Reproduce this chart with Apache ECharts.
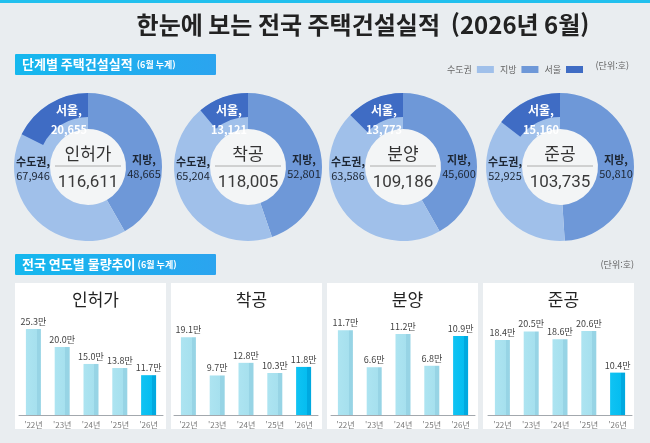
<!DOCTYPE html>
<html lang="ko">
<head>
    <meta charset="UTF-8">
    <title>한눈에 보는 전국 주택건설실적</title>
    <style>
        html,body{
            margin: 0;
            padding: 0;
            background: #e9edf0;
        }
        #main{
            width: 650px;
            height: 443px;
        }
    </style>
    <script src="https://cdn.jsdelivr.net/npm/echarts@6/dist/echarts.min.js"></script>
</head>
<body>
<div id="main"></div>
<script>
    // 단계별 주택건설실적 (6월 누계, 단위: 호)
    var stages = ['인허가', '착공', '분양', '준공'];
    var metroVals = [67946, 65204, 63586, 52925];   // 수도권
    var localVals = [48665, 52801, 45600, 50810];   // 지방
    var seoulVals = [20655, 13121, 13773, 15160];   // 서울 (수도권 중)

    // 전국 연도별 물량추이 (6월 누계, 단위: 만호)
    var years = ["'22년", "'23년", "'24년", "'25년", "'26년"];
    var permitVals = [25.3, 20.0, 15.0, 13.8, 11.7];
    var startVals = [19.1, 9.7, 12.8, 10.3, 11.8];
    var saleVals = [11.7, 6.6, 11.2, 6.8, 10.9];
    var doneVals = [18.4, 20.5, 18.6, 20.6, 10.4];

    var C_METRO = '#a0c0ea', C_LOCAL = '#6e98d8', C_SEOUL = '#3f6cc4';
    var FONT = '"Noto Sans CJK KR", "Noto Sans", sans-serif';
    var NUM_FONT = 'Roboto, "Noto Sans", sans-serif';

    var chart = echarts.init(document.getElementById('main'));

    var donutX = [88, 248, 403, 560];
    var donutY = 167;
    var R_IN = 38, R_OUT = 74;

    function fmt(v) { return v.toLocaleString('en-US'); }

    var series = [];
    stages.forEach(function (stage, i) {
        var cx = donutX[i];
        var total = metroVals[i] + localVals[i];
        // 가운데 원
        series.push({
            type: 'pie',
            center: [cx, donutY],
            radius: [0, R_IN],
            silent: true,
            emphasis: {disabled: true},
            labelLine: {show: false},
            data: [{value: 1, name: stage, itemStyle: {color: '#f3f5f6'}}],
            label: {
                show: true,
                position: 'center',
                formatter: '{a|' + stage + '}\n{b|' + fmt(total) + '}',
                rich: {
                    a: {fontSize: 17, color: '#333', lineHeight: 27, fontFamily: FONT},
                    b: {fontSize: 17, color: '#3a3a3a', lineHeight: 30, fontFamily: NUM_FONT}
                }
            },
            labelLayout: {dy: 2}
        });
        // 지방 / 수도권
        series.push({
            type: 'pie',
            center: [cx, donutY],
            radius: [R_IN, R_OUT],
            startAngle: 90,
            clockwise: true,
            silent: true,
            emphasis: {disabled: true},
            labelLine: {show: false},
            itemStyle: {borderWidth: 0},
            data: [
                {value: localVals[i], name: '지방', itemStyle: {color: C_LOCAL}},
                {value: metroVals[i], name: '수도권', itemStyle: {color: C_METRO}}
            ],
            label: {
                show: true,
                position: 'inside',
                formatter: function (p) { return '{n|' + p.name + ',}\n{v|' + fmt(p.value) + '}'; },
                rich: {
                    n: {fontSize: 11, fontWeight: 'bold', color: '#1d2633', lineHeight: 14, align: 'center'},
                    v: {fontSize: 11, color: '#1d2633', lineHeight: 14, align: 'center'}
                }
            },
            labelLayout: function (p) {
                return p.dataIndex === 0
                    ? {x: cx + 56, y: donutY, align: 'center', verticalAlign: 'middle'}
                    : {x: cx - 55, y: donutY + 2, align: 'center', verticalAlign: 'middle'};
            }
        });
        // 서울 (바깥쪽 띠)
        series.push({
            type: 'pie',
            center: [cx, donutY],
            radius: [50, R_OUT],
            startAngle: 90,
            clockwise: true,
            silent: true,
            emphasis: {disabled: true},
            labelLine: {show: false},
            data: [
                {value: total - seoulVals[i], name: '-', itemStyle: {color: 'rgba(0,0,0,0)'}, label: {show: false}},
                {value: seoulVals[i], name: '서울', itemStyle: {color: C_SEOUL}}
            ],
            label: {
                show: true,
                position: 'inside',
                formatter: function (p) { return '{n|' + p.name + ',}\n{v|' + fmt(p.value) + '}'; },
                rich: {
                    n: {fontSize: 12, fontWeight: 'bold', color: '#fff', lineHeight: 19, align: 'center'},
                    v: {fontSize: 11, fontWeight: 'bold', color: '#fff', lineHeight: 19, align: 'center'}
                }
            },
            labelLayout: function () {
                return {x: cx - 19, y: donutY - 47, align: 'center', verticalAlign: 'middle'};
            }
        });
    });

    // 연도별 막대
    var barSets = [permitVals, startVals, saleVals, doneVals];
    var gridLeft = [19, 174, 331, 488];
    var yMax = [28.5, 23.8, 13.4, 23.8];
    var grids = [], xAxes = [], yAxes = [];
    var normalBar = new echarts.graphic.LinearGradient(0, 0, 1, 0, [
        {offset: 0, color: '#ade4f1'}, {offset: 0.72, color: '#a6e0ee'},
        {offset: 0.72, color: '#97d4e5'}, {offset: 1, color: '#97d4e5'}
    ]);
    var lastBar = new echarts.graphic.LinearGradient(0, 0, 1, 0, [
        {offset: 0, color: '#10c3f3'}, {offset: 0.72, color: '#05bdf0'},
        {offset: 0.72, color: '#00a9e0'}, {offset: 1, color: '#00a9e0'}
    ]);
    barSets.forEach(function (vals, i) {
        grids.push({left: gridLeft[i], width: 144, top: 318, height: 97});
        xAxes.push({
            type: 'category', gridIndex: i, data: years,
            axisLine: {lineStyle: {color: '#a3a8ad'}},
            axisTick: {show: false},
            axisLabel: {fontSize: 8, color: '#777', margin: 6}
        });
        yAxes.push({type: 'value', gridIndex: i, min: 0, max: yMax[i], show: false, splitLine: {show: false}});
        series.push({
            type: 'bar',
            xAxisIndex: i,
            yAxisIndex: i,
            barWidth: 15,
            silent: true,
            data: vals.map(function (v, k) {
                return {value: v, itemStyle: {color: k === vals.length - 1 ? lastBar : normalBar}};
            }),
            label: {
                show: true,
                position: 'top',
                distance: 3,
                fontSize: 9,
                color: '#444',
                formatter: function (p) { return p.value.toFixed(1) + '만'; }
            }
        });
    });

    var panelX = [15, 171, 327, 483];
    var headFill = function () {
        return new echarts.graphic.LinearGradient(0, 0, 1, 0, [{offset: 0, color: '#15b8ee'}, {offset: 1, color: '#2ba4ef'}]);
    };
    var headRich = {
        a: {fontSize: 13, fontWeight: 'bold', fill: '#fff', fontFamily: FONT},
        b: {fontSize: 9, fontWeight: 'bold', fill: '#fff', fontFamily: FONT}
    };
    var graphics = [
        {type: 'rect', shape: {x: 0, y: 0, width: 650, height: 3}, style: {fill: '#22c0ee'}},
        {type: 'rect', shape: {x: 15, y: 54, width: 201, height: 21, r: 1}, style: {fill: headFill()}},
        {type: 'text', x: 22, y: 64.5, style: {text: '{a|단계별 주택건설실적}{b|  (6월 누계)}', verticalAlign: 'middle', rich: headRich}},
        {type: 'text', x: 629, y: 66, style: {text: '(단위:호)', fontSize: 9, fill: '#666', align: 'right', verticalAlign: 'middle', fontFamily: FONT}},
        {type: 'rect', shape: {x: 15, y: 254, width: 201, height: 21, r: 1}, style: {fill: headFill()}},
        {type: 'text', x: 22, y: 264.5, style: {text: '{a|전국 연도별 물량추이}{b| (6월 누계)}', verticalAlign: 'middle', rich: headRich}},
        {type: 'text', x: 634, y: 265, style: {text: '(단위:호)', fontSize: 9, fill: '#666', align: 'right', verticalAlign: 'middle', fontFamily: FONT}}
    ];
    // 가운데 원의 구분선
    donutX.forEach(function (cx) {
        graphics.push({type: 'line', z: 10, shape: {x1: cx - 33, y1: donutY - 1, x2: cx + 33, y2: donutY - 1},
            style: {stroke: '#999', lineWidth: 0.8}});
    });
    panelX.forEach(function (px) {
        graphics.push({type: 'rect', z: -1, shape: {x: px, y: 283, width: 151, height: 146}, style: {fill: '#ffffff'}});
    });

    var titles = [{
        text: '한눈에 보는 전국 주택건설실적  (2026년 6월)',
        left: 358, top: 8, textAlign: 'center',
        textStyle: {fontSize: 24, fontWeight: 'bold', color: '#222', fontFamily: FONT}
    }];
    stages.forEach(function (stage, i) {
        titles.push({
            text: stage, left: panelX[i] + 75.5, top: 286, textAlign: 'center',
            textStyle: {fontSize: 17, fontWeight: 'normal', color: '#222', fontFamily: FONT}
        });
    });

    var option = {
        backgroundColor: '#e9edf0',
        animation: false,
        textStyle: {fontFamily: FONT},
        title: titles,
        legend: {
            data: ['수도권', '지방', '서울'],
            right: 62, top: 60,
            align: 'right',
            icon: 'rect',
            itemWidth: 17, itemHeight: 7, itemGap: 6,
            selectedMode: false,
            textStyle: {fontSize: 9, color: '#666'}
        },
        graphic: graphics,
        grid: grids,
        xAxis: xAxes,
        yAxis: yAxes,
        series: series
    };

    chart.setOption(option);
</script>
</body>
</html>
